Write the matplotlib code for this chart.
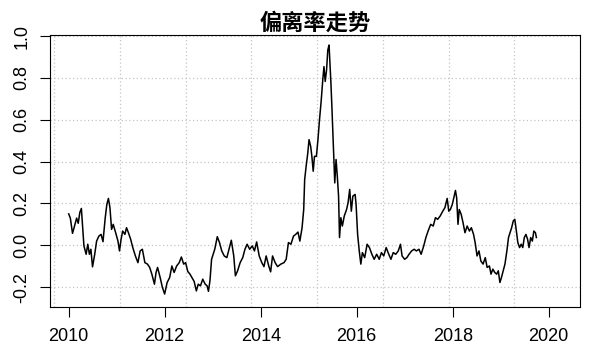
import matplotlib
matplotlib.use('Agg')
import matplotlib.pyplot as plt
import matplotlib.dates as mdates
import numpy as np
import pandas as pd

# ---- datos (anio decimal, valor) ----
anios = [
    2010.000, 2010.034, 2010.079, 2010.119, 2010.165, 2010.198, 2010.232, 2010.264,
    2010.317, 2010.363, 2010.397, 2010.431, 2010.462, 2010.496, 2010.542, 2010.581,
    2010.629, 2010.675, 2010.714, 2010.760, 2010.794, 2010.827, 2010.859, 2010.893,
    2010.927, 2010.978, 2011.026, 2011.058, 2011.091, 2011.125, 2011.171, 2011.204,
    2011.244, 2011.290, 2011.335, 2011.389, 2011.442, 2011.488, 2011.534, 2011.587,
    2011.641, 2011.687, 2011.732, 2011.786, 2011.819, 2011.851, 2011.905, 2011.950,
    2011.998, 2012.050, 2012.103, 2012.149, 2012.196, 2012.248, 2012.302, 2012.347,
    2012.395, 2012.435, 2012.480, 2012.526, 2012.565, 2012.613, 2012.659, 2012.698,
    2012.744, 2012.792, 2012.843, 2012.883, 2012.911, 2012.942,
    2012.976, 2013.042, 2013.095, 2013.141, 2013.188, 2013.240, 2013.294, 2013.339,
    2013.387, 2013.438, 2013.472, 2013.518, 2013.571, 2013.625, 2013.671, 2013.716,
    2013.770, 2013.823, 2013.869, 2013.915, 2013.968, 2014.022, 2014.067, 2014.113,
    2014.167, 2014.206, 2014.246, 2014.300, 2014.351, 2014.419, 2014.484, 2014.530,
    2014.577, 2014.629, 2014.683, 2014.728, 2014.776, 2014.815, 2014.861, 2014.895,
    2014.915, 2014.946, 2014.980, 2015.006, 2015.040, 2015.065, 2015.093, 2015.119,
    2015.159, 2015.192, 2015.224, 2015.258, 2015.292, 2015.317, 2015.343, 2015.371,
    2015.397, 2015.423, 2015.442, 2015.462, 2015.482, 2015.510, 2015.530, 2015.542,
    2015.569, 2015.595, 2015.621, 2015.641, 2015.669, 2015.700, 2015.740, 2015.788,
    2015.819, 2015.853, 2015.887, 2015.919, 2015.966,
    2015.986, 2016.018, 2016.052, 2016.085, 2016.117, 2016.165, 2016.216, 2016.264,
    2016.315, 2016.363, 2016.415, 2016.468, 2016.514, 2016.562, 2016.613, 2016.667,
    2016.712, 2016.760, 2016.812, 2016.865, 2016.911, 2016.944, 2016.998, 2017.044,
    2017.089, 2017.143, 2017.196, 2017.242, 2017.296, 2017.341, 2017.395, 2017.440,
    2017.486, 2017.540, 2017.593, 2017.639, 2017.685, 2017.738, 2017.792, 2017.837,
    2017.883, 2017.917, 2017.950, 2017.990, 2018.022, 2018.056, 2018.081, 2018.109,
    2018.135, 2018.175, 2018.214, 2018.254, 2018.300, 2018.347, 2018.387, 2018.433,
    2018.466, 2018.506, 2018.546, 2018.585, 2018.631, 2018.677, 2018.716, 2018.764,
    2018.796, 2018.835, 2018.875, 2018.915, 2018.948, 2018.982, 2019.014, 2019.048,
    2019.087, 2019.127, 2019.161, 2019.192, 2019.226, 2019.260, 2019.292, 2019.325,
    2019.355, 2019.391, 2019.425, 2019.458, 2019.490, 2019.524, 2019.558, 2019.589,
    2019.623, 2019.657, 2019.689, 2019.722, 2019.742,
]
valores = [
    0.150, 0.130, 0.057, 0.090, 0.130, 0.105, 0.157, 0.176,
    -0.003, -0.043, 0.005, -0.043, -0.019, -0.103, -0.043, 0.020,
    0.044, 0.052, 0.017, 0.130, 0.195, 0.224, 0.180, 0.076,
    0.100, 0.060, 0.020, -0.027, 0.029, 0.068, 0.052, 0.084,
    0.060, 0.029, -0.011, -0.051, -0.083, -0.027, -0.019, -0.083,
    -0.090, -0.106, -0.138, -0.186, -0.130, -0.106, -0.154, -0.200,
    -0.233, -0.178, -0.154, -0.099, -0.130, -0.099, -0.083, -0.056,
    -0.090, -0.083, -0.125, -0.138, -0.154, -0.173, -0.218, -0.186,
    -0.194, -0.162, -0.186, -0.194, -0.220, -0.170,
    -0.067, -0.019, 0.041, 0.013, -0.027, -0.051, -0.059, -0.019,
    0.024, -0.051, -0.146, -0.122, -0.083, -0.059, -0.019, 0.005,
    -0.019, -0.003, -0.027, 0.016, -0.051, -0.083, -0.102, -0.051,
    -0.099, -0.127, -0.051, -0.083, -0.102, -0.090, -0.083, -0.067,
    0.013, 0.005, 0.044, 0.052, 0.063, 0.020, 0.084, 0.171,
    0.314, 0.378, 0.441, 0.505, 0.473, 0.425, 0.354, 0.425,
    0.425, 0.505, 0.600, 0.687, 0.790, 0.854, 0.783, 0.838,
    0.933, 0.957, 0.870, 0.775, 0.663, 0.489, 0.362, 0.298,
    0.410, 0.330, 0.235, 0.037, 0.132, 0.092, 0.140, 0.171,
    0.203, 0.267, 0.163, 0.235, 0.243,
    0.195, 0.052, -0.027, -0.090, -0.035, -0.059, 0.005, -0.011,
    -0.043, -0.067, -0.043, -0.067, -0.035, -0.051, -0.011, -0.043,
    -0.067, -0.035, -0.043, -0.027, 0.005, -0.051, -0.067, -0.059,
    -0.043, -0.027, -0.019, -0.027, -0.019, -0.043, -0.003, 0.037,
    0.068, 0.100, 0.092, 0.132, 0.124, 0.140, 0.163, 0.180,
    0.224, 0.163, 0.171, 0.195, 0.227, 0.262, 0.227, 0.100,
    0.171, 0.148, 0.108, 0.060, 0.092, 0.068, 0.084, 0.052,
    0.013, -0.051, -0.027, -0.075, -0.090, -0.059, -0.106, -0.099,
    -0.138, -0.114, -0.130, -0.138, -0.122, -0.178, -0.154, -0.125,
    -0.090, -0.027, 0.037, 0.060, 0.084, 0.116, 0.124, 0.068,
    0.013, -0.011, 0.005, -0.011, 0.037, 0.052, 0.029, -0.011,
    0.037, 0.020, 0.068, 0.060, 0.037,
]
anios_ticks = [2010, 2012, 2014, 2016, 2018, 2020]
y_ticks = [-0.2, 0.0, 0.2, 0.4, 0.6, 0.8, 1.0]
titulo = '偏离率走势'

plt.rcParams['font.family'] = ['Liberation Sans', 'Noto Sans CJK SC']

fechas = pd.to_datetime('2010-01-01') + pd.to_timedelta(
    (np.array(anios) - 2010) * 365.25, unit='D')

fig = plt.figure(figsize=(6.05, 3.55), dpi=100)
ax = fig.add_axes([50 / 605, 48 / 355, 530 / 605, 272 / 355])

ax.plot(fechas, valores, color='black', lw=1.1, zorder=3)

# limites estilo R (4% extra)
x0 = mdates.date2num(fechas[0])
x1 = mdates.date2num(fechas[-1])
r = x1 - x0
ax.set_xlim(x0 - 0.04 * r, x1 + 0.04 * r)
ax.set_ylim(-0.295, 1.005)

# ejes
pos_ticks = [mdates.date2num(pd.Timestamp(f'{a}-01-01')) for a in anios_ticks]
ax.set_xticks(pos_ticks)
ax.set_xticklabels([str(a) for a in anios_ticks])
ax.set_yticks(y_ticks)
ax.set_yticklabels([f'{v:.1f}' for v in y_ticks], rotation=90, va='center')
ax.tick_params(axis='both', length=7, width=0.8, labelsize=13, color='black')
ax.tick_params(axis='x', pad=8)
ax.tick_params(axis='y', pad=7)

# rejilla (grid de R: cada 500 dias en x)
ax.set_xticks(np.arange(14500, 18501, 500), minor=True)
ax.tick_params(axis='x', which='minor', length=0)
ax.grid(True, which='minor', axis='x', color='#C4C4C4', ls=(0, (1.0, 2.0)), lw=0.9)
ax.grid(True, which='major', axis='y', color='#C4C4C4', ls=(0, (1.0, 2.0)), lw=0.9)
ax.grid(False, which='major', axis='x')

for s in ax.spines.values():
    s.set_linewidth(0.8)

ax.set_title(titulo, fontsize=16, fontweight='bold', family='Noto Sans CJK SC', pad=4)

fig.savefig('out.png', dpi=100)
